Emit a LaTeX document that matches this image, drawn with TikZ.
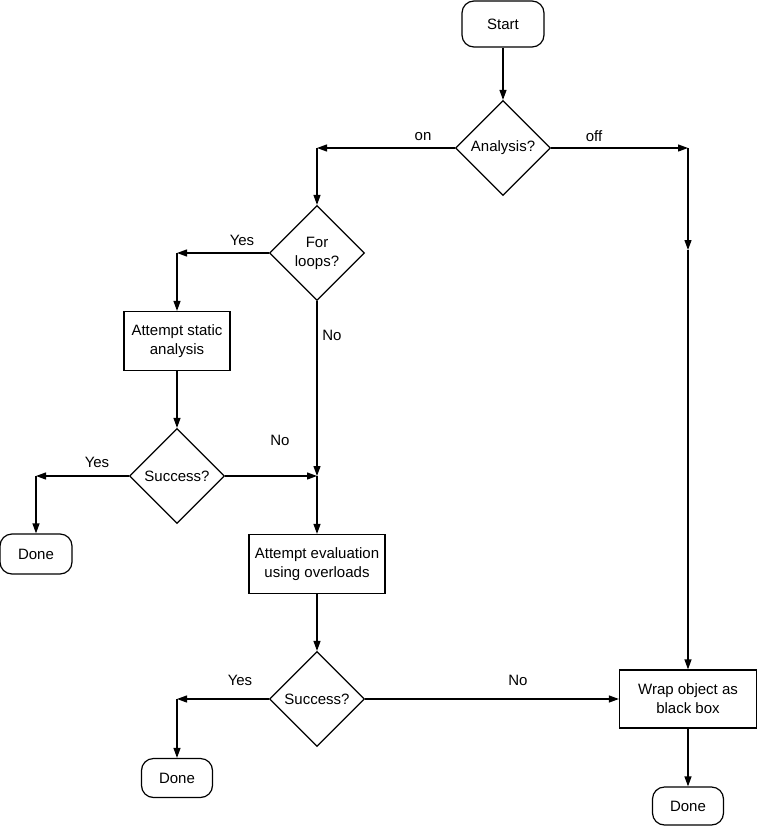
\documentclass[tikz,border=0pt]{standalone}
\usepackage{fontspec}
\setmainfont{Liberation Sans}
\usepackage{tikz}
\usetikzlibrary{shapes.geometric, arrows.meta, positioning}

\begin{document}
\begin{tikzpicture}[x=1pt, y=-1pt,
  term/.style={draw, rounded corners=12pt, line width=1.2pt, inner sep=0pt,
               minimum width=71pt, minimum height=39pt, font=\fontsize{15}{19}\selectfont},
  proc/.style={draw, line width=1.2pt, align=center, inner sep=0pt, font=\fontsize{15}{19}\selectfont},
  dec/.style={draw, diamond, aspect=1, line width=1.2pt, align=center, inner sep=0pt,
              minimum width=95pt, minimum height=95pt, font=\fontsize{15}{19}\selectfont},
  lbl/.style={font=\fontsize{15}{19}\selectfont},
  arr/.style={-{Triangle[length=10pt, width=7pt]}, line width=1.2pt}
]
\useasboundingbox (0,0) rectangle (757,827);

\node[term, minimum width=82pt, minimum height=46pt] (start) at (503,24) {Start};
\node[dec] (ana) at (503,148) {Analysis?};
\node[dec] (loops) at (317,253) {For\\loops?};
\node[proc, minimum width=106pt, minimum height=59pt] (static) at (177,341) {Attempt static\\analysis};
\node[dec] (succA) at (177,476) {Success?};
\node[term, minimum width=72pt, minimum height=40pt] (doneA) at (36,554) {Done};
\node[proc, minimum width=136pt, minimum height=59pt] (eval) at (317,564) {Attempt evaluation\\using overloads};
\node[dec] (succB) at (317,699) {Success?};
\node[term] (doneB) at (177,778) {Done};
\node[proc, minimum width=137pt, minimum height=58pt] (wrap) at (688,699) {Wrap object as\\black box};
\node[term, minimum height=38pt] (doneC) at (688,806) {Done};

\coordinate (onC) at (317,148);
\coordinate (offC) at (688,148);
\coordinate (offM) at (688,250);
\coordinate (yesA) at (177,253);
\coordinate (yesB) at (36,476);
\coordinate (noJ) at (317,476);
\coordinate (yesC) at (177,699);

\node[lbl] (onL) at (423,137) {on};
\node[lbl] (offL) at (594,136) {off};
\node[lbl] (yesAL) at (242,240) {Yes};
\node[lbl] (noAL) at (332,335) {No};
\node[lbl] (yesBL) at (97,462) {Yes};
\node[lbl] (noBL) at (280,440) {No};
\node[lbl] (yesCL) at (240,680) {Yes};
\node[lbl] (noCL) at (518,680) {No};

\draw[arr] (start) -- (ana);
\draw[arr] (ana.west) -- (onC);
\draw[arr] (onC) -- (loops.north);
\draw[arr] (ana.east) -- (offC);
\draw[arr] (offC) -- (offM);
\draw[arr] (offM) -- (wrap.north);
\draw[arr] (loops.west) -- (yesA);
\draw[arr] (yesA) -- (static.north);
\draw[arr] (static) -- (succA);
\draw[arr] (succA.west) -- (yesB);
\draw[arr] (yesB) -- (doneA);
\draw[arr] (succA.east) -- (noJ);
\draw[arr] (loops.south) -- (noJ);
\draw[arr] (noJ) -- (eval.north);
\draw[arr] (eval) -- (succB);
\draw[arr] (succB.west) -- (yesC);
\draw[arr] (yesC) -- (doneB);
\draw[arr] (succB.east) -- (wrap.west);
\draw[arr] (wrap) -- (doneC);
\end{tikzpicture}
\end{document}
